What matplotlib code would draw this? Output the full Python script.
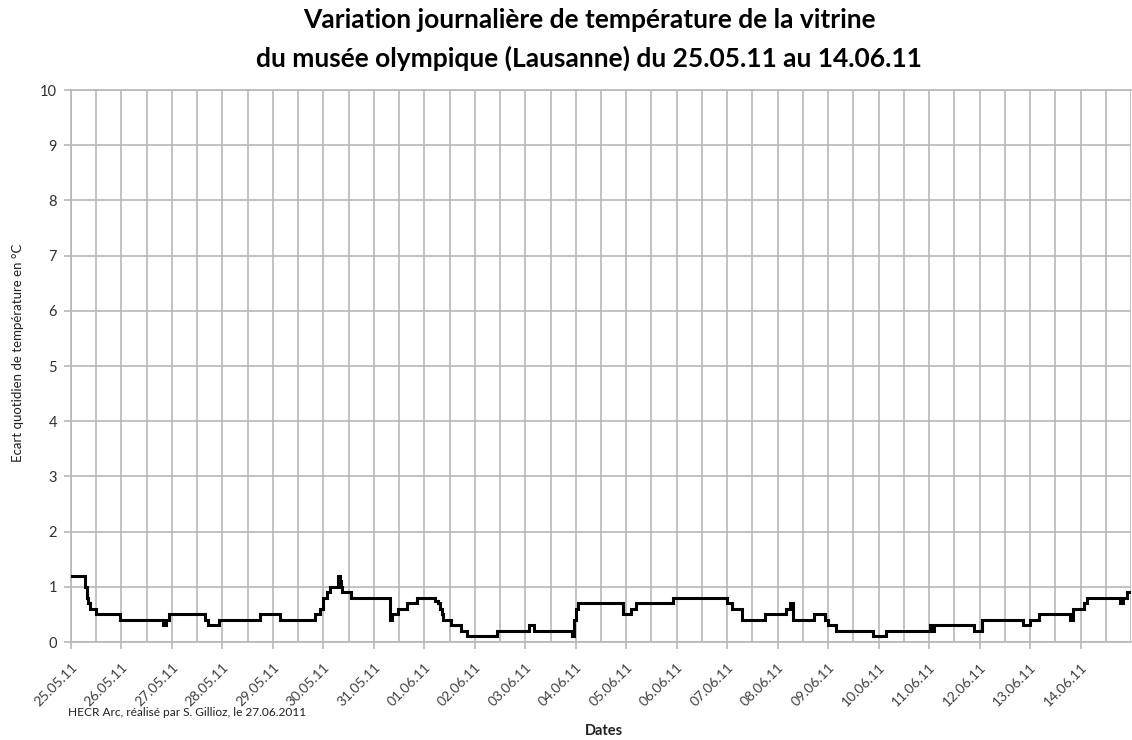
import matplotlib
matplotlib.use("Agg")
import matplotlib.pyplot as plt
from matplotlib.ticker import MultipleLocator, FixedLocator

plt.rcParams['font.family'] = ['Lato', 'DejaVu Sans']

# Data: step start (days since 25.05.11 00:00) and daily temperature range (°C)
step_day = [0.00, 0.28, 0.31, 0.34, 0.37, 0.50, 0.97, 1.83, 1.88, 1.95,
            2.66, 2.72, 2.94, 3.75, 4.15, 4.84, 4.94, 5.00, 5.07, 5.14,
            5.28, 5.32, 5.35, 5.37, 5.54, 6.31, 6.36, 6.48, 6.66, 6.85,
            7.22, 7.27, 7.31, 7.35, 7.37, 7.52, 7.72, 7.84, 8.43, 9.07,
            9.17, 9.92, 9.96, 10.00, 10.05, 10.93, 11.09, 11.20, 11.92, 13.00,
            13.10, 13.29, 13.74, 14.17, 14.24, 14.30, 14.72, 14.93, 15.00, 15.15,
            15.89, 16.15, 17.01, 17.04, 17.10, 17.89, 18.04, 18.86, 19.00, 19.17,
            19.80, 19.86, 20.06, 20.12, 20.79, 20.85, 20.92, 21.00]
step_val = [1.2, 1.0, 0.8, 0.7, 0.6, 0.5, 0.4, 0.3, 0.4, 0.5,
            0.4, 0.3, 0.4, 0.5, 0.4, 0.5, 0.6, 0.8, 0.9, 1.0,
            1.2, 1.1, 1.0, 0.9, 0.8, 0.4, 0.5, 0.6, 0.7, 0.8,
            0.75, 0.7, 0.6, 0.5, 0.4, 0.3, 0.2, 0.1, 0.2, 0.3,
            0.2, 0.1, 0.4, 0.6, 0.7, 0.5, 0.6, 0.7, 0.8, 0.7,
            0.6, 0.4, 0.5, 0.6, 0.7, 0.4, 0.5, 0.4, 0.3, 0.2,
            0.1, 0.2, 0.3, 0.2, 0.3, 0.2, 0.4, 0.3, 0.4, 0.5,
            0.4, 0.6, 0.7, 0.8, 0.7, 0.8, 0.9, 0.9]

date_labels = ['25.05.11', '26.05.11', '27.05.11', '28.05.11', '29.05.11',
               '30.05.11', '31.05.11', '01.06.11', '02.06.11', '03.06.11',
               '04.06.11', '05.06.11', '06.06.11', '07.06.11', '08.06.11',
               '09.06.11', '10.06.11', '11.06.11', '12.06.11', '13.06.11',
               '14.06.11']

title_l1 = "Variation journalière de température de la vitrine"
title_l2 = "du musée olympique (Lausanne) du 25.05.11 au 14.06.11"
ylabel = "Ecart quotidien de température en °C"
xlabel = "Dates"
footnote = "HECR Arc, réalisé par S. Gillioz, le 27.06.2011"

fig = plt.figure(figsize=(11.32, 7.40), dpi=100)
ax = fig.add_axes([71/1132, 1-642/740, (1131-71)/1132, (642-90)/740])

grid_c = '#b8b8b8'
ax.plot(step_day, step_val, drawstyle='steps-post', color='black', lw=2.2,
        solid_joinstyle='miter', zorder=3)

ax.set_xlim(0, 21)
ax.set_ylim(0, 10)
ax.yaxis.set_major_locator(MultipleLocator(1))
ax.xaxis.set_major_locator(FixedLocator(range(len(date_labels))))
ax.xaxis.set_minor_locator(MultipleLocator(0.5))
ax.set_xticklabels(date_labels, rotation=45, ha='right', va='top',
                   rotation_mode='anchor', fontsize=10, color='#404040')
for lab in ax.get_yticklabels():
    lab.set_fontsize(10.5)
    lab.set_color('#303030')
ax.tick_params(axis='x', which='major', length=5, color=grid_c, width=1.2, pad=8.5)
ax.tick_params(axis='x', which='minor', length=0)
ax.tick_params(axis='y', which='major', length=5, color=grid_c, width=1.2, pad=5)
ax.grid(True, which='both', axis='x', color=grid_c, lw=1.2)
ax.grid(True, which='major', axis='y', color=grid_c, lw=1.2)
ax.set_axisbelow(True)
for s in ax.spines.values():
    s.set_color(grid_c)
    s.set_linewidth(1.2)
ax.spines['right'].set_visible(False)

fig.text(18/1132, 1-353/740, ylabel, rotation=90, ha='center', va='center',
         fontsize=9.5, color='#202020')
fig.text(589/1132, 1-20/740, title_l1, ha='center', va='center', fontsize=19,
         fontweight='bold')
fig.text(589/1132, 1-58/740, title_l2, ha='center', va='center', fontsize=19,
         fontweight='bold')
fig.text(604/1132, 1-731/740, xlabel, ha='center', va='center', fontsize=10.5,
         fontweight='bold', color='#202020')
fig.text(68/1132, 1-713/740, footnote, ha='left', va='center', fontsize=8.6,
         color='#202020')

fig.savefig('out.png', dpi=100)
